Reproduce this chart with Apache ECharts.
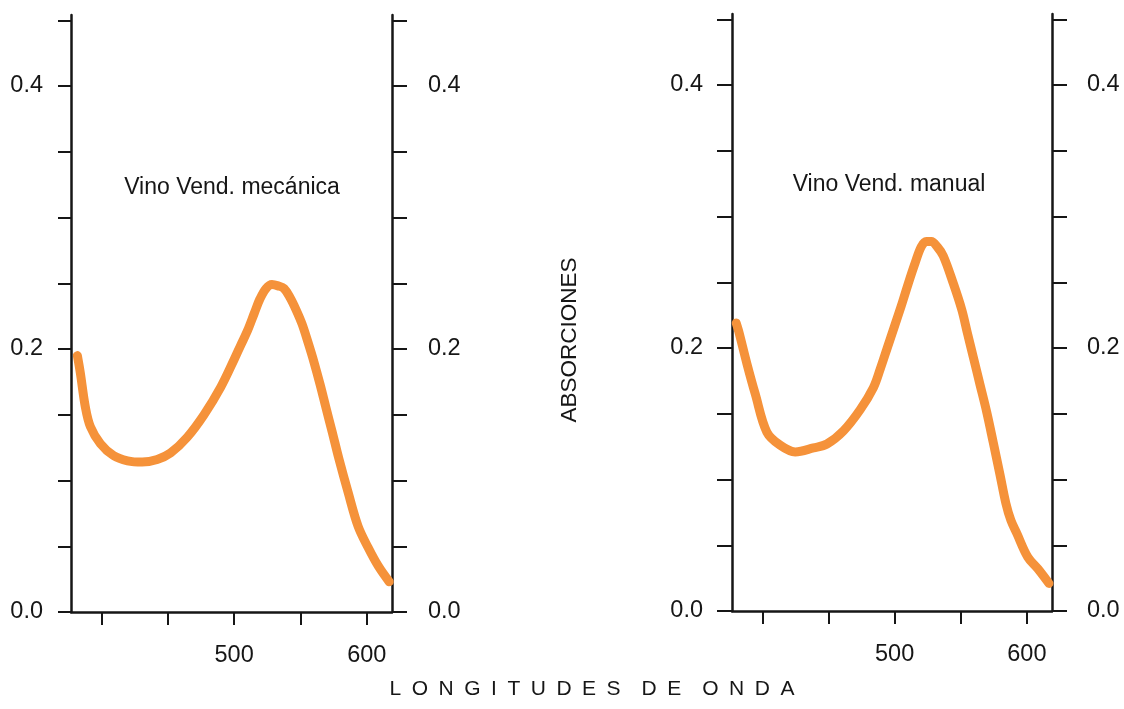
<!DOCTYPE html>
<html>
<head>
<meta charset="utf-8">
<script src="https://cdn.jsdelivr.net/npm/echarts@6/dist/echarts.min.js"></script>
<style>
  html, body { margin: 0; padding: 0; background: #ffffff; }
  #chart { width: 1124px; height: 709px; }
</style>
</head>
<body>
<div id="chart"></div>
<script>
// ---- data ----
const titles = ['Vino Vend. mecánica', 'Vino Vend. manual'];
const yAxisName = 'ABSORCIONES';
const xAxisName = 'LONGITUDES DE ONDA';

const xTicks = [400, 450, 500, 550, 600];
const xTickLabels = [500, 600];
const yTicks = [0, 0.05, 0.1, 0.15, 0.2, 0.25, 0.3, 0.35, 0.4, 0.45];
const yTickLabels = [0, 0.2, 0.4];

const mecWl  = [381.8,384.0,387.8,391.6,399.2,409.0,419.6,430.7,442.0,452.1,464.7,477.3,489.9,500.0,505.0,510.1,515.1,519.4,524.0,528.5,533.1,537.6,542.2,546.6,551.2,555.7,560.2,564.8,569.3,573.9,579.1,585.9,593.5,601.0,608.6,616.9];
const mecAbs = [0.195,0.182,0.156,0.141,0.128,0.119,0.115,0.114,0.116,0.121,0.133,0.150,0.171,0.192,0.203,0.214,0.227,0.238,0.246,0.249,0.248,0.246,0.239,0.230,0.219,0.205,0.190,0.173,0.155,0.137,0.116,0.091,0.065,0.049,0.035,0.023];

const manWl  = [380.2,382.0,388.3,394.6,403.4,413.5,424.8,438.6,448.8,461.3,473.9,484.0,489.1,494.4,499.7,505.0,510.3,515.6,520.1,523.9,527.7,532.2,536.8,544.4,550.8,555.1,559.5,564.6,569.7,574.6,579.6,584.1,587.9,592.4,600.7,608.4,616.7];
const manAbs = [0.219,0.213,0.188,0.165,0.136,0.126,0.121,0.124,0.127,0.137,0.153,0.170,0.184,0.200,0.216,0.232,0.249,0.265,0.277,0.281,0.281,0.277,0.270,0.249,0.229,0.211,0.193,0.172,0.151,0.128,0.104,0.082,0.069,0.059,0.041,0.032,0.021];

// ---- build ----
const ink = '#161616';
const orange = '#F5923A';
const font = '"Liberation Sans", Arial, Helvetica, sans-serif';
const zip = (a, b) => a.map((v, i) => [v, b[i]]);

function xAxisFor(g) {
  return {
    type: 'value', gridIndex: g, min: 377, max: 619, position: 'bottom',
    axisLine: { show: true, lineStyle: { color: ink, width: 2.5 } },
    axisTick: { show: true, length: 13, customValues: xTicks, lineStyle: { color: ink, width: 2 } },
    axisLabel: { customValues: xTickLabels, margin: 32, fontSize: 23.5, color: ink, fontFamily: font },
    splitLine: { show: false }
  };
}
function yAxisFor(g, pos, tickLen, margin) {
  return {
    type: 'value', gridIndex: g, min: 0, max: 0.454, position: pos,
    axisLine: { show: true, onZero: false, lineStyle: { color: ink, width: 2.5 } },
    axisTick: { show: true, length: tickLen, customValues: yTicks, lineStyle: { color: ink, width: 2 } },
    axisLabel: {
      customValues: yTickLabels, margin: margin, fontSize: 23.5, color: ink, fontFamily: font,
      formatter: v => v.toFixed(1),
      padding: pos === 'right' ? [0, 0, 8, 0] : 0
    },
    splitLine: { show: false }
  };
}

const option = {
  backgroundColor: '#ffffff',
  animation: false,
  grid: [
    { left: 71, right: 1124 - 392, top: 15, bottom: 709 - 612 },
    { left: 732, right: 1124 - 1052, top: 14, bottom: 709 - 611 }
  ],
  xAxis: [xAxisFor(0), xAxisFor(1)],
  yAxis: [
    yAxisFor(0, 'left', 13, 28),
    yAxisFor(0, 'right', 15, 36),
    yAxisFor(1, 'left', 15, 29),
    yAxisFor(1, 'right', 15, 35)
  ],
  series: [
    {
      type: 'line', xAxisIndex: 0, yAxisIndex: 0, data: zip(mecWl, mecAbs),
      smooth: 0.35, symbol: 'none',
      lineStyle: { color: orange, width: 9, cap: 'round', join: 'round' }
    },
    {
      type: 'line', xAxisIndex: 1, yAxisIndex: 2, data: zip(manWl, manAbs),
      smooth: 0.35, symbol: 'none',
      lineStyle: { color: orange, width: 9, cap: 'round', join: 'round' }
    }
  ],
  graphic: [
    { type: 'text', x: 232, y: 188, style: { text: titles[0], fill: ink, font: '23px ' + font, textAlign: 'center', textVerticalAlign: 'middle' } },
    { type: 'text', x: 889, y: 185, style: { text: titles[1], fill: ink, font: '23px ' + font, textAlign: 'center', textVerticalAlign: 'middle' } },
    { type: 'text', x: 570, y: 340, rotation: Math.PI / 2, style: { text: yAxisName, fill: ink, font: '22.5px ' + font, textAlign: 'center', textVerticalAlign: 'middle' } },
    { type: 'text', x: 592, y: 689, style: { text: xAxisName.split(' ').map(w => w.split('').join('\u2002')).join('\u2002\u2002'), fill: ink, font: '21px ' + font, textAlign: 'center', textVerticalAlign: 'middle' } }
  ]
};

const chart = echarts.init(document.getElementById('chart'), null, { renderer: 'canvas' });
chart.setOption(option);
</script>
</body>
</html>
